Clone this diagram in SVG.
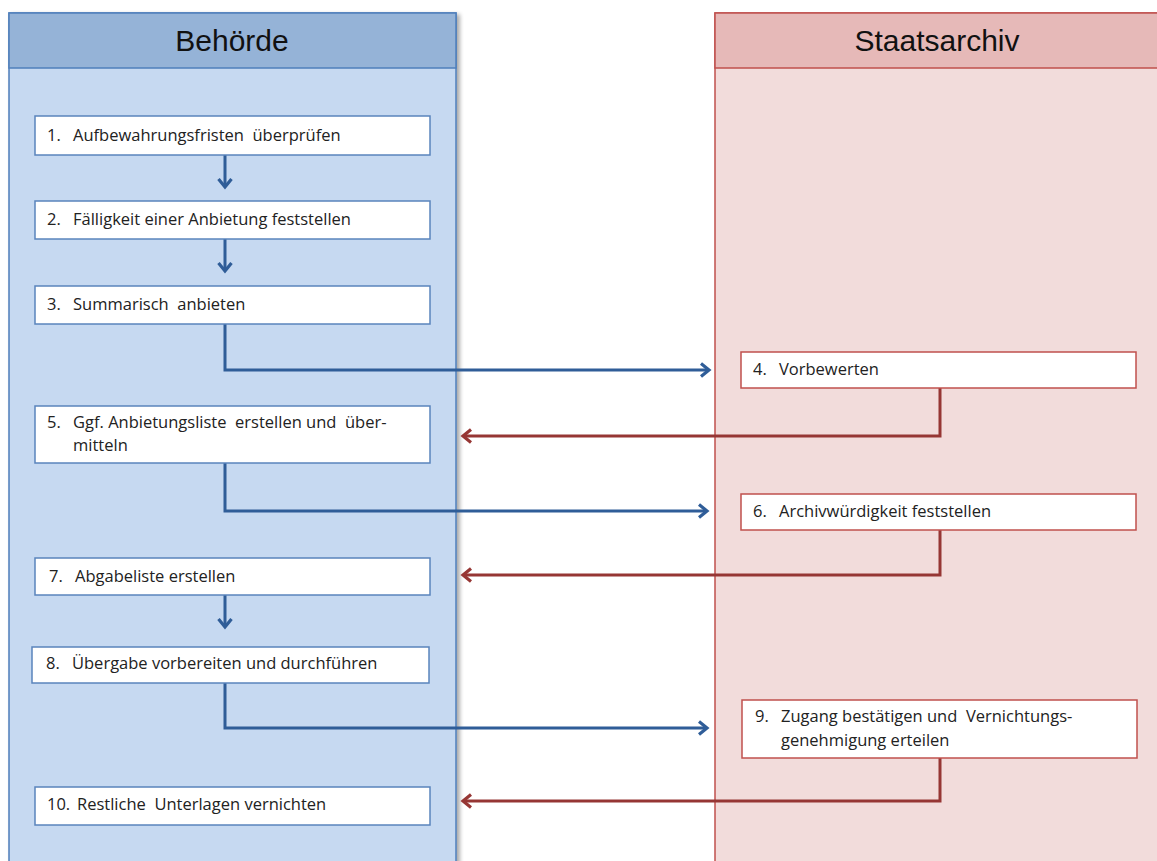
<svg xmlns="http://www.w3.org/2000/svg" width="1157" height="861" viewBox="0 0 1157 861">
<style>
.lt{font-family:"Liberation Sans",Arial,sans-serif;font-size:30px;fill:#111;text-anchor:middle}
.t{font-family:"Open Sans","Liberation Sans",sans-serif;font-size:16.5px;fill:#222;white-space:pre}
.bb{fill:#fff;stroke:#5a84bc;stroke-width:1.5}
.rb{fill:#fff;stroke:#c0504d;stroke-width:1.5}
.ba{fill:none;stroke:#2f5d98;stroke-width:3}
.ra{fill:none;stroke:#963634;stroke-width:3}
</style>
<defs>
<marker id="ab" markerWidth="12" markerHeight="16" refX="9" refY="8" orient="auto" markerUnits="userSpaceOnUse"><path d="M1,1.5 L9,8 L1,14.5" fill="none" stroke="#2f5d98" stroke-width="3.2"/></marker>
<marker id="ar" markerWidth="12" markerHeight="16" refX="9" refY="8" orient="auto" markerUnits="userSpaceOnUse"><path d="M1,1.5 L9,8 L1,14.5" fill="none" stroke="#963634" stroke-width="3.2"/></marker>
<filter id="sh" x="-5%" y="-5%" width="115%" height="115%"><feGaussianBlur in="SourceAlpha" stdDeviation="2"/><feOffset dx="3" dy="2"/><feComponentTransfer><feFuncA type="linear" slope="0.35"/></feComponentTransfer><feMerge><feMergeNode/><feMergeNode in="SourceGraphic"/></feMerge></filter>
</defs>
<rect width="1157" height="861" fill="#fff"/>
<g id="lane-behoerde">
<rect x="9" y="13" width="447" height="860" fill="#c6d9f1" stroke="#4f7fbb" stroke-width="1.5" filter="url(#sh)"/>
<rect x="9" y="13" width="447" height="55" fill="#95b3d7" stroke="#4f7fbb" stroke-width="1.5"/>
<text class="lt" x="232" y="51">Behörde</text>
</g>
<g id="lane-staatsarchiv">
<rect x="715" y="13" width="450" height="860" fill="#f2dcdb" stroke="#c0504d" stroke-width="1.5"/>
<rect x="715" y="13" width="450" height="55" fill="#e6b9b8" stroke="#c0504d" stroke-width="1.5"/>
<text class="lt" x="937" y="51">Staatsarchiv</text>
</g>
<g id="connectors">
<path class="ba" d="M225,155 V187" marker-end="url(#ab)"/>
<path class="ba" d="M225,239 V271" marker-end="url(#ab)"/>
<path class="ba" d="M225,324 V370 H709" marker-end="url(#ab)"/>
<path class="ra" d="M940,388 V436 H463" marker-end="url(#ar)"/>
<path class="ba" d="M225,463 V511 H707" marker-end="url(#ab)"/>
<path class="ra" d="M940,530 V575 H463" marker-end="url(#ar)"/>
<path class="ba" d="M225,595 V627" marker-end="url(#ab)"/>
<path class="ba" d="M225,683 V728 H707" marker-end="url(#ab)"/>
<path class="ra" d="M940,758 V801 H463" marker-end="url(#ar)"/>
</g>
<g id="n1"><rect class="bb" x="35" y="116" width="395" height="39"/><text class="t" x="47" y="141">1.</text><text class="t" x="73" y="141">Aufbewahrungsfristen  überprüfen</text></g>
<g id="n2"><rect class="bb" x="35" y="201" width="395" height="38"/><text class="t" x="47" y="225">2.</text><text class="t" x="73" y="225">Fälligkeit einer Anbietung feststellen</text></g>
<g id="n3"><rect class="bb" x="35" y="286" width="395" height="38"/><text class="t" x="47" y="310">3.</text><text class="t" x="73" y="310">Summarisch  anbieten</text></g>
<g id="n4"><rect class="rb" x="741" y="352" width="395" height="36"/><text class="t" x="753" y="375">4.</text><text class="t" x="779" y="375">Vorbewerten</text></g>
<g id="n5"><rect class="bb" x="35" y="406" width="395" height="57"/><text class="t" x="47" y="428">5.</text><text class="t" x="73" y="428">Ggf. Anbietungsliste  erstellen und  über-</text><text class="t" x="73" y="451">mitteln</text></g>
<g id="n6"><rect class="rb" x="741" y="494" width="395" height="36"/><text class="t" x="753" y="517">6.</text><text class="t" x="779" y="517">Archivwürdigkeit feststellen</text></g>
<g id="n7"><rect class="bb" x="35" y="558" width="395" height="37"/><text class="t" x="49" y="582">7.</text><text class="t" x="75" y="582">Abgabeliste erstellen</text></g>
<g id="n8"><rect class="bb" x="32" y="647" width="397" height="36"/><text class="t" x="46" y="669">8.</text><text class="t" x="72" y="669">Übergabe vorbereiten und durchführen</text></g>
<g id="n9"><rect class="rb" x="742" y="700" width="395" height="58"/><text class="t" x="755" y="722">9.</text><text class="t" x="781" y="722">Zugang bestätigen und  Vernichtungs-</text><text class="t" x="781" y="746">genehmigung erteilen</text></g>
<g id="n10"><rect class="bb" x="35" y="787" width="395" height="38"/><text class="t" x="47" y="810">10.</text><text class="t" x="77" y="810">Restliche  Unterlagen vernichten</text></g>
</svg>
